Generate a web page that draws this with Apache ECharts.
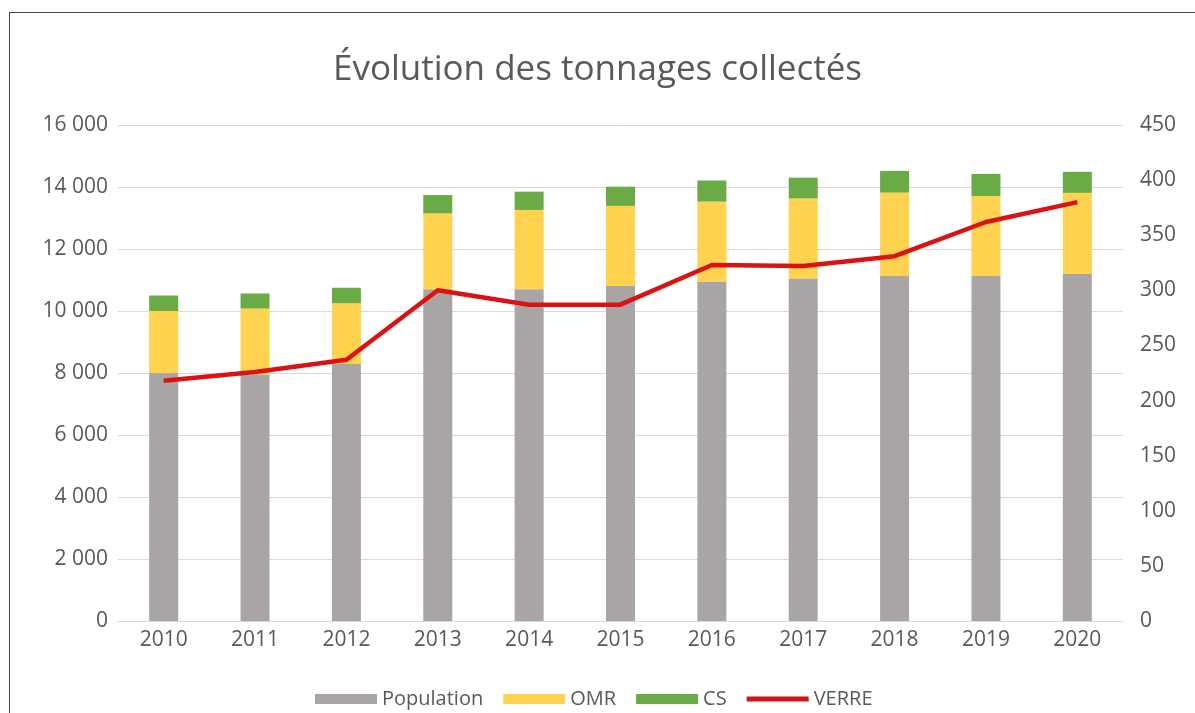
<!DOCTYPE html>
<html>
<head>
<meta charset="utf-8">
<script src="https://cdn.jsdelivr.net/npm/echarts@6/dist/echarts.min.js"></script>
<style>
html,body{margin:0;padding:0;background:#fff;}
#frame{position:absolute;left:9px;top:12px;width:1200px;height:710px;border-top:1px solid #444;border-left:1px solid #444;}
#chart{position:absolute;left:0;top:0;width:1195px;height:713px;}
</style>
</head>
<body>
<div id="frame"></div>
<div id="chart"></div>
<script>
const years = ['2010','2011','2012','2013','2014','2015','2016','2017','2018','2019','2020'];
const population = [8000, 7950, 8290, 10700, 10700, 10810, 10950, 11050, 11130, 11130, 11190];
const omr = [2000, 2130, 1960, 2450, 2560, 2580, 2580, 2580, 2690, 2580, 2620];
const cs = [500, 485, 500, 590, 590, 620, 680, 670, 700, 710, 680];
const verre = [218, 226, 237, 300, 287, 287, 323, 322, 331, 362, 380];

const fmt = v => String(v).replace(/\B(?=(\d{3})+(?!\d))/g, ' ');
const chart = echarts.init(document.getElementById('chart'));
const txt = '#595959';
const font = 'Open Sans';
chart.setOption({
  animation: false,
  title: {
    text: 'Évolution des tonnages collectés',
    left: 'center', top: 48,
    textStyle: {fontFamily: font, fontWeight: 'normal', fontSize: 35, color: txt}
  },
  legend: {
    top: 684, left: 310,
    itemWidth: 62, itemHeight: 10, itemGap: 20,
    textStyle: {fontFamily: font, fontSize: 20, color: txt},
    data: [
      {name: 'Population', icon: 'rect'},
      {name: 'OMR', icon: 'rect'},
      {name: 'CS', icon: 'rect'},
      {name: 'VERRE', icon: 'path://M0,0H64V5H0Z'}
    ]
  },
  grid: {left: 118, right: 72, top: 125, bottom: 92},
  xAxis: {
    type: 'category', data: years,
    axisLine: {lineStyle: {color: '#d9d9d9'}},
    axisTick: {show: false},
    axisLabel: {fontFamily: font, fontSize: 21, color: txt, margin: 9}
  },
  yAxis: [{
    type: 'value', min: 0, max: 16000, interval: 2000,
    axisLine: {show: false}, axisTick: {show: false},
    splitLine: {lineStyle: {color: '#d9d9d9'}},
    axisLabel: {fontFamily: font, fontSize: 21, color: txt, margin: 10, formatter: fmt}
  }, {
    type: 'value', min: 0, max: 450, interval: 50,
    axisLine: {show: false}, axisTick: {show: false},
    splitLine: {show: false},
    axisLabel: {fontFamily: font, fontSize: 21, color: txt, margin: 17}
  }],
  series: [
    {name: 'Population', type: 'bar', stack: 't', data: population, barWidth: 29, itemStyle: {color: '#a9a5a5'}},
    {name: 'OMR', type: 'bar', stack: 't', data: omr, itemStyle: {color: '#ffd24f'}},
    {name: 'CS', type: 'bar', stack: 't', data: cs, itemStyle: {color: '#6aab46'}},
    {name: 'VERRE', type: 'line', yAxisIndex: 1, data: verre, symbol: 'none',
     lineStyle: {color: '#dc1212', width: 4.5}, itemStyle: {color: '#d01515'}}
  ]
});
</script>
</body>
</html>
